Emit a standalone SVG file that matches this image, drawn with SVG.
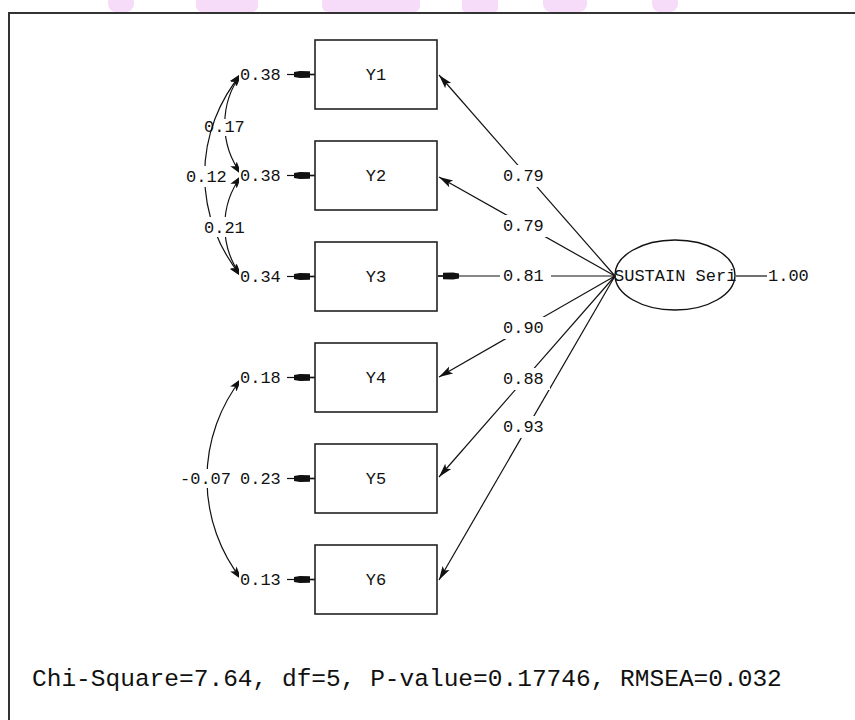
<svg xmlns="http://www.w3.org/2000/svg" width="855" height="720" viewBox="0 0 855 720">
<style>
.bg{fill:#ffffff}
.wm{fill:#f6dcf9}
.box{fill:#ffffff;stroke:#222;stroke-width:1.6}
.t{font-family:"Liberation Mono","DejaVu Sans Mono",monospace;font-size:17px;fill:#111}
.c{fill:none;stroke:#111;stroke-width:1.2}
.lb{fill:#ffffff}
</style>
<defs>
<marker id="ah" markerUnits="userSpaceOnUse" markerWidth="16" markerHeight="12" refX="14" refY="5" orient="auto-start-reverse" viewBox="0 0 16 10">
<path d="M0,1 L14,5 L0,9 L3,5 z" fill="#111"/>
</marker>
<marker id="blk" markerUnits="userSpaceOnUse" markerWidth="22" markerHeight="10" refX="21" refY="4" orient="auto" viewBox="0 0 22 8">
<path d="M0,1.5 L6,0.5 L16,0.8 L16,7.2 L6,7.5 L0,6.5 z M16,3.3 L21,3.3 L21,4.7 L16,4.7 z" fill="#111"/>
</marker>
</defs>
<rect class="bg" x="0" y="0" width="855" height="720"/>
<g id="watermark">
<rect class="wm" x="108" y="-10" width="26" height="22" rx="8"/>
<rect class="wm" x="196" y="-10" width="62" height="22" rx="6"/>
<rect class="wm" x="322" y="-10" width="98" height="22" rx="6"/>
<rect class="wm" x="462" y="-10" width="36" height="22" rx="4"/>
<rect class="wm" x="543" y="-10" width="44" height="22" rx="8"/>
<rect class="wm" x="652" y="-10" width="26" height="22" rx="8"/>
</g>
<path d="M9,720 L9,13 L855,13" fill="none" stroke="#333" stroke-width="2"/>

<g id="connectors">
<!-- error arrows -->
<line class="c" x1="287" y1="74.5" x2="315" y2="74.5" marker-end="url(#blk)"/>
<line class="c" x1="287" y1="175.5" x2="315" y2="175.5" marker-end="url(#blk)"/>
<line class="c" x1="287" y1="276.5" x2="315" y2="276.5" marker-end="url(#blk)"/>
<line class="c" x1="287" y1="377.5" x2="315" y2="377.5" marker-end="url(#blk)"/>
<line class="c" x1="287" y1="478.5" x2="315" y2="478.5" marker-end="url(#blk)"/>
<line class="c" x1="287" y1="579.5" x2="315" y2="579.5" marker-end="url(#blk)"/>
<!-- loadings -->
<line class="c" x1="615" y1="276" x2="439" y2="75" marker-end="url(#ah)"/>
<line class="c" x1="615" y1="276" x2="439" y2="177" marker-end="url(#ah)"/>
<line class="c" x1="615" y1="276" x2="438" y2="276" marker-end="url(#blk)"/>
<line class="c" x1="615" y1="276" x2="439" y2="377" marker-end="url(#ah)"/>
<line class="c" x1="615" y1="276" x2="439" y2="477" marker-end="url(#ah)"/>
<line class="c" x1="615" y1="276" x2="439" y2="580" marker-end="url(#ah)"/>
<line class="c" x1="736" y1="276" x2="767" y2="276"/>
<!-- covariances -->
<path class="c" d="M242,73 A84,84 0 0,0 242,175" marker-start="url(#ah)" marker-end="url(#ah)"/>
<rect class="lb" x="204" y="119" width="42" height="17"/>
<text class="t" x="204" y="132">0.17</text>
<path class="c" d="M242,73 A158,158 0 0,0 242,277" marker-start="url(#ah)" marker-end="url(#ah)"/>
<path class="c" d="M242,175 A84,84 0 0,0 242,277" marker-start="url(#ah)" marker-end="url(#ah)"/>
<rect class="lb" x="186" y="166" width="42" height="21"/>
<text class="t" x="186" y="182">0.12</text>
<rect class="lb" x="204" y="217" width="42" height="20"/>
<text class="t" x="204" y="233">0.21</text>
<path class="c" d="M242,378 A163,163 0 0,0 242,580" marker-start="url(#ah)" marker-end="url(#ah)"/>
<!-- loading labels -->
<rect class="lb" x="501" y="165" width="49" height="22"/>
<text class="t" x="503" y="181">0.79</text>
<rect class="lb" x="501" y="215" width="49" height="22"/>
<text class="t" x="503" y="231">0.79</text>
<rect class="lb" x="500" y="266" width="51" height="20"/>
<text class="t" x="503" y="281">0.81</text>
<rect class="lb" x="501" y="317" width="49" height="22"/>
<text class="t" x="503" y="333">0.90</text>
<rect class="lb" x="501" y="368" width="49" height="22"/>
<text class="t" x="503" y="384">0.88</text>
<rect class="lb" x="501" y="416" width="49" height="22"/>
<text class="t" x="503" y="432">0.93</text>
</g>

<g id="e1"><rect class="lb" x="239" y="66" width="44" height="17"/><text class="t" x="240" y="80">0.38</text></g>
<g id="e2"><rect class="lb" x="239" y="167" width="44" height="17"/><text class="t" x="240" y="181">0.38</text></g>
<g id="e3"><rect class="lb" x="239" y="268" width="44" height="17"/><text class="t" x="240" y="282">0.34</text></g>
<g id="e4"><rect class="lb" x="239" y="369" width="44" height="17"/><text class="t" x="240" y="383">0.18</text></g>
<g id="e5"><rect class="lb" x="178" y="469" width="105" height="19"/><text class="t" x="180" y="484">-0.07</text><text class="t" x="240" y="484">0.23</text></g>
<g id="e6"><rect class="lb" x="239" y="571" width="44" height="17"/><text class="t" x="240" y="585">0.13</text></g>

<g id="Y1"><rect class="box" x="315" y="40" width="122" height="69"/><text class="t" x="376" y="80" text-anchor="middle">Y1</text></g>
<g id="Y2"><rect class="box" x="315" y="141" width="122" height="69"/><text class="t" x="376" y="181" text-anchor="middle">Y2</text></g>
<g id="Y3"><rect class="box" x="315" y="242" width="122" height="69"/><text class="t" x="376" y="282" text-anchor="middle">Y3</text></g>
<g id="Y4"><rect class="box" x="315" y="343" width="122" height="69"/><text class="t" x="376" y="383" text-anchor="middle">Y4</text></g>
<g id="Y5"><rect class="box" x="315" y="444" width="122" height="69"/><text class="t" x="376" y="484" text-anchor="middle">Y5</text></g>
<g id="Y6"><rect class="box" x="315" y="545" width="122" height="69"/><text class="t" x="376" y="585" text-anchor="middle">Y6</text></g>

<g id="sustain">
<ellipse cx="675" cy="275" rx="60" ry="35" fill="none" stroke="#111" stroke-width="1.4"/>
<text class="t" x="614" y="281">SUSTAIN Seri</text>
</g>
<g id="sustain-err"><text class="t" x="768" y="281">1.00</text></g>

<text x="32" y="686" font-family="'Liberation Mono','DejaVu Sans Mono',monospace" font-size="24.5" fill="#111">Chi-Square=7.64, df=5, P-value=0.17746, RMSEA=0.032</text>
</svg>
